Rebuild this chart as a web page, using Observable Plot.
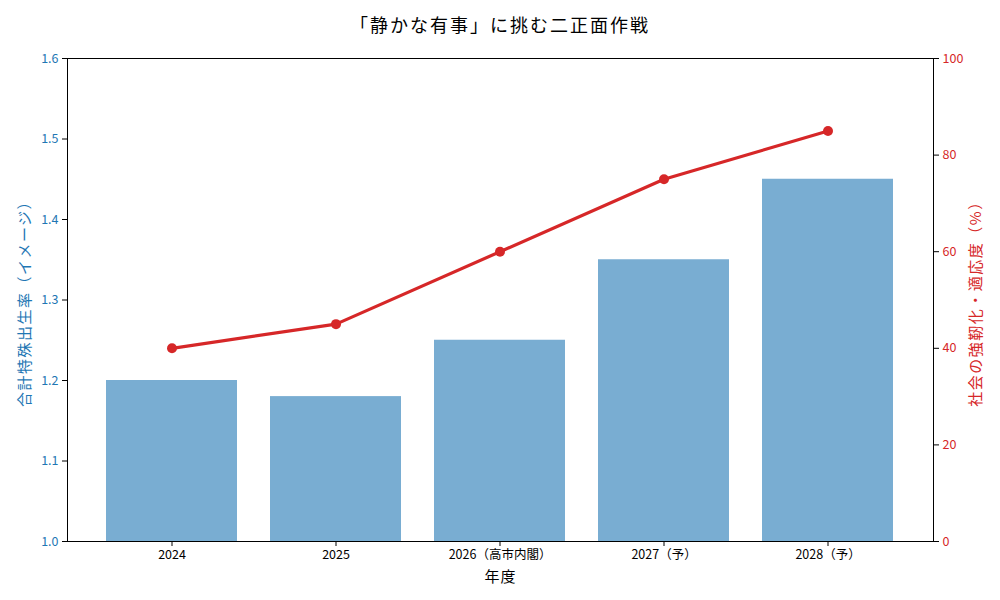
<!DOCTYPE html>
<html>
<head>
<meta charset="utf-8">
<script src="https://cdn.jsdelivr.net/npm/d3@7"></script>
<script src="https://cdn.jsdelivr.net/npm/@observablehq/plot@0.6"></script>
<style>
  body { margin: 0; background: #fff; font-family: "Noto Sans CJK JP", sans-serif; }
  #wrap { position: relative; width: 1000px; height: 600px; }
  #title { position: absolute; left: 67px; width: 866px; top: 0; height: 48px; line-height: 48px; text-align: center; font-size: 18px; letter-spacing: 2px; color: #000; }
  #chart { position: absolute; top: 48px; left: 0; }
</style>
</head>
<body>
<div id="wrap">
  <div id="title">「静かな有事」に挑む二正面作戦</div>
  <div id="chart"></div>
</div>
<script>
const years = ["2024", "2025", "2026（高市内閣）", "2027（予）", "2028（予）"];
const fertility = [1.20, 1.18, 1.25, 1.35, 1.45];
const resilience = [40, 45, 60, 75, 85];
const leftTicks = [1.0, 1.1, 1.2, 1.3, 1.4, 1.5, 1.6];
const rightTicks = [0, 20, 40, 60, 80, 100];

const yMin = 1.0, yMax = 1.6;
const toLeft = v => yMin + (v / 100) * (yMax - yMin);

const bars = years.map((y, i) => ({year: y, value: fertility[i]}));
const pts = years.map((y, i) => ({year: y, value: resilience[i], y: toLeft(resilience[i])}));

const blue = "#1f77b4";
const red = "#d62728";
const font = "'Noto Sans CJK JP', sans-serif";

const chart = Plot.plot({
  width: 1000,
  height: 552,
  marginLeft: 67,
  marginRight: 67,
  marginTop: 10,
  marginBottom: 59,
  style: {fontFamily: font, fontSize: "12px", background: "#fff", color: "#000"},
  x: {type: "band", domain: years, paddingInner: 0.2, paddingOuter: 0.24, align: 0.5},
  y: {domain: [yMin, yMax]},
  marks: [
    Plot.rectY(bars, {x: "year", y1: yMin, y2: "value", fill: "#79add2"}),
    Plot.line(pts, {x: "year", y: "y", stroke: red, strokeWidth: 3.2}),
    Plot.dot(pts, {x: "year", y: "y", fill: red, r: 5}),
    Plot.frame({stroke: "#000", strokeWidth: 1}),
    Plot.axisX({tickSize: 5, tickPadding: 4, fontSize: 12.5, label: "年度", labelAnchor: "center", labelArrow: "none", labelOffset: 40}),
    Plot.axisY(leftTicks, {anchor: "left", tickSize: 5, tickPadding: 4, tickFormat: d3.format(".1f"), stroke: "#000", fill: blue, fontSize: 12.5,
      label: "合計特殊出生率（イメージ）", labelAnchor: "center", labelArrow: "none", labelOffset: 48}),
    Plot.axisY(rightTicks.map(toLeft), {anchor: "right", tickSize: 5, tickPadding: 4, tickFormat: (d, i) => String(rightTicks[i]), stroke: "#000", fill: red, fontSize: 12.5,
      label: "社会の強靭化・適応度（%）", labelAnchor: "center", labelArrow: "none", labelOffset: 47})
  ]
});
document.getElementById("chart").appendChild(chart);

// axis label styling
chart.querySelectorAll("g[aria-label='y-axis label'] text").forEach(t => {
  t.setAttribute("font-size", "15");
  t.setAttribute("letter-spacing", "1.5");
});
chart.querySelectorAll("g[aria-label='x-axis label'] text").forEach(t => {
  t.setAttribute("font-size", "15");
  t.setAttribute("letter-spacing", "1");
});
</script>
</body>
</html>
